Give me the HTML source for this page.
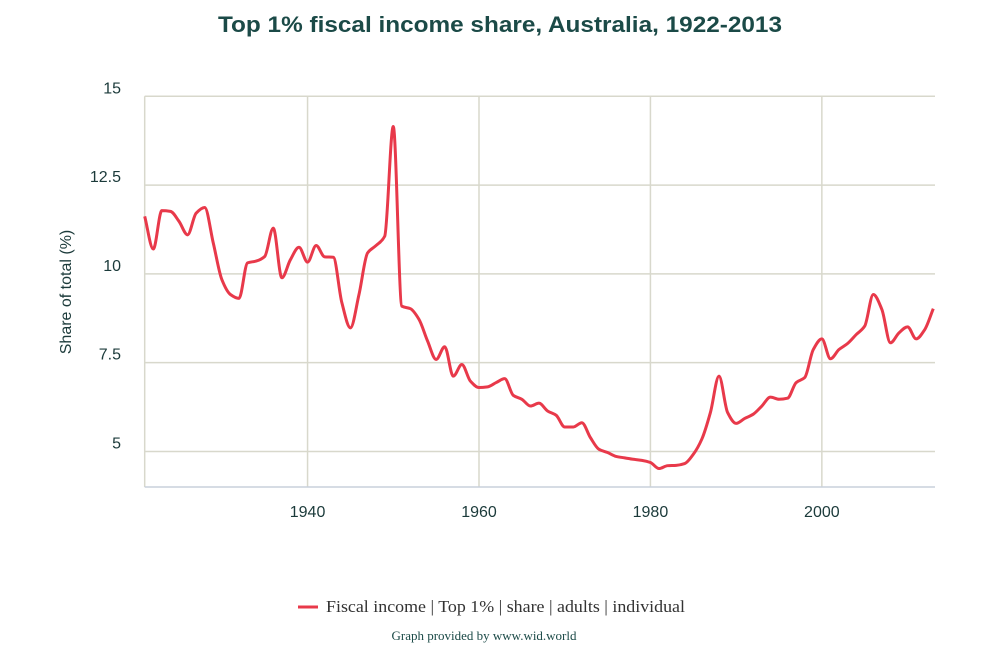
<!DOCTYPE html>
<html><head><meta charset="utf-8"><style>
body{margin:0;background:#fff;}
svg{display:block;}
</style></head><body>
<svg width="1000" height="649" viewBox="0 0 1000 649" id="chart">
<text x="500" y="32" text-anchor="middle" font-family="Liberation Sans, sans-serif" font-size="22" font-weight="bold" fill="#1b4a47" textLength="564" lengthAdjust="spacingAndGlyphs">Top 1% fiscal income share, Australia, 1922-2013</text>
<g id="grid"></g>
<g id="axes"></g>
<text transform="translate(71,292) rotate(-90)" text-anchor="middle" font-family="Liberation Sans, sans-serif" font-size="16" fill="#1b3a3a">Share of total (%)</text>
<path id="line" fill="none" stroke="#e8394a" stroke-width="3" stroke-linejoin="round"/>
<g>
<line x1="298" y1="607" x2="318" y2="607" stroke="#e8394a" stroke-width="3"/>
<text x="326" y="612" font-family="Liberation Serif, serif" font-size="17" fill="#333" textLength="359" lengthAdjust="spacingAndGlyphs">Fiscal income | Top 1% | share | adults | individual</text>
</g>
<text x="484" y="640" text-anchor="middle" font-family="Liberation Serif, serif" font-size="13" fill="#1b4a47" textLength="185" lengthAdjust="spacingAndGlyphs">Graph provided by www.wid.world</text>
</svg>
<script>
const years=[];for(let y=1921;y<=2013;y++)years.push(y);
const values=[11.62,10.70,11.78,11.76,11.48,11.10,11.71,11.87,10.87,9.84,9.42,9.31,10.31,10.36,10.49,11.29,9.89,10.40,10.75,10.33,10.80,10.48,10.47,9.19,8.48,9.42,10.59,10.80,11.06,14.15,9.09,9.02,8.72,8.11,7.59,7.95,7.12,7.45,6.98,6.80,6.82,6.94,7.05,6.58,6.47,6.28,6.36,6.14,6.02,5.69,5.69,5.81,5.39,5.06,4.97,4.86,4.82,4.78,4.75,4.69,4.52,4.60,4.61,4.66,4.92,5.35,6.10,7.12,6.10,5.79,5.93,6.05,6.28,6.53,6.47,6.50,6.94,7.08,7.87,8.17,7.61,7.87,8.04,8.29,8.53,9.42,9.00,8.06,8.34,8.51,8.17,8.43,9.02];
const yTicks=[5,7.5,10,12.5,15];
const yTickLabels=["5","7.5","10","12.5","15"];
const xTicks=[1940,1960,1980,2000];
const X0=144.7,X1=935,Y0=487,Y1=96.3;
const xMin=1921,xMax=2013.2,yMin=4,yMax=15;
const xs=v=>X0+(v-xMin)/(xMax-xMin)*(X1-X0);
const ys=v=>Y0-(v-yMin)/(yMax-yMin)*(Y0-Y1);
const NS='http://www.w3.org/2000/svg';
const grid=document.getElementById('grid'),axes=document.getElementById('axes');
function mk(tag,attrs,parent){const e=document.createElementNS(NS,tag);for(const k in attrs)e.setAttribute(k,attrs[k]);parent.appendChild(e);return e;}
yTicks.forEach((t,i)=>{
 const l=mk('line',{x1:X0,x2:X1,y1:ys(t),y2:ys(t),stroke:'#d8d8cc','stroke-width':1.5},grid);
 
 
 const tx=mk('text',{x:121,y:ys(t)-3,'text-anchor':'end','font-family':'Liberation Sans, sans-serif','font-size':16,fill:'#1b3a3a'},axes);
 tx.textContent=yTickLabels[i];
 
 
});
xTicks.forEach(t=>{
 const l=mk('line',{x1:xs(t),x2:xs(t),y1:Y1,y2:Y0,stroke:'#d8d8cc','stroke-width':1.5},grid);
 
 
 const tx=mk('text',{x:xs(t),y:517,'text-anchor':'middle','font-family':'Liberation Sans, sans-serif','font-size':16,fill:'#1b3a3a'},axes);
 tx.textContent=String(t);
 
 
});
const la=mk('line',{x1:X0,x2:X0,y1:Y1,y2:Y0,stroke:'#d8d8cc','stroke-width':1.5},axes);


const ba=mk('line',{x1:X0,x2:X1,y1:Y0,y2:Y0,stroke:'#c8d0dc','stroke-width':1.5},axes);


// monotone cubic interpolation
const px=years.map(xs),py=values.map(ys),n=px.length;
const dx=[],sl=[];
for(let i=0;i<n-1;i++){dx.push(px[i+1]-px[i]);sl.push((py[i+1]-py[i])/dx[i]);}
const m=[sl[0]];
for(let i=1;i<n-1;i++){
 if(sl[i-1]*sl[i]<=0)m.push(0);
 else{const w1=2*dx[i]+dx[i-1],w2=dx[i]+2*dx[i-1];m.push((w1+w2)/(w1/sl[i-1]+w2/sl[i]));}
}
m.push(sl[n-2]);
let d='M'+px[0]+','+py[0];
for(let i=0;i<n-1;i++){
 const h=dx[i]/3;
 d+=' C'+(px[i]+h)+','+(py[i]+m[i]*h)+' '+(px[i+1]-h)+','+(py[i+1]-m[i+1]*h)+' '+px[i+1]+','+py[i+1];
}
document.getElementById('line').setAttribute('d',d);
</script>
</body></html>
